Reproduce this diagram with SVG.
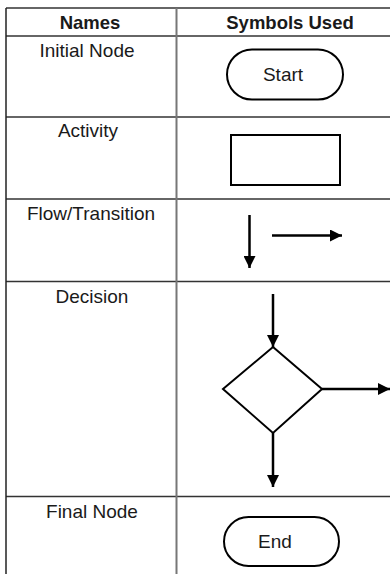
<svg xmlns="http://www.w3.org/2000/svg" width="390" height="574" viewBox="0 0 390 574">
<defs>
<style>
.t{font-family:"Liberation Sans",Arial,sans-serif;font-size:19px;fill:#1a1a1a;text-anchor:middle}
.b{font-weight:bold;font-size:18.5px}
.h{stroke:#333;stroke-width:1.5;fill:none}
.v{stroke:#777;stroke-width:2;fill:none}
.s{stroke:#000;stroke-width:2;fill:#fff}
.a{stroke:#000;stroke-width:2.5;fill:none}
</style>
<marker id="ah" viewBox="0 0 10 10" refX="10" refY="5" markerWidth="4.8" markerHeight="4.8" markerUnits="strokeWidth" orient="auto">
<path d="M0,0 L10,5 L0,10 Z" fill="#000"/>
</marker>
</defs>
<rect width="390" height="574" fill="#fff"/>
<g id="table">
<line class="h" x1="6" y1="8" x2="390" y2="8"/>
<line class="h" x1="6" y1="36" x2="390" y2="36"/>
<line class="h" x1="6" y1="117" x2="390" y2="117"/>
<line class="h" x1="6" y1="199" x2="390" y2="199"/>
<line class="h" x1="6" y1="281.5" x2="390" y2="281.5"/>
<line class="h" x1="6" y1="496.5" x2="390" y2="496.5"/>
<line x1="6" y1="8" x2="6" y2="574" stroke="#222" stroke-width="1.5"/>
<line class="v" x1="176.5" y1="8" x2="176.5" y2="574"/>
</g>
<g id="labels">
<text class="t b" x="90" y="29">Names</text>
<text class="t b" x="290" y="29">Symbols Used</text>
<text class="t" x="87" y="57">Initial Node</text>
<text class="t" x="88" y="137">Activity</text>
<text class="t" x="91" y="220">Flow/Transition</text>
<text class="t" x="92" y="303">Decision</text>
<text class="t" x="92" y="518">Final Node</text>
</g>
<g id="start">
<rect class="s" x="227" y="49.5" width="116" height="50" rx="25"/>
<text class="t" x="283" y="81">Start</text>
</g>
<g id="activity">
<rect class="s" x="231" y="135" width="109" height="50"/>
</g>
<g id="decision">
<polygon class="s" points="273,347 322,389 273,433 223,389"/>
</g>
<g id="end">
<rect class="s" x="224" y="517" width="115" height="49" rx="24.5"/>
<text class="t" x="275" y="548">End</text>
</g>
<g id="connectors">
<line class="a" x1="249.5" y1="215" x2="249.5" y2="268" marker-end="url(#ah)"/>
<line class="a" x1="272" y1="235.5" x2="342" y2="235.5" marker-end="url(#ah)"/>
<line class="a" x1="273" y1="294" x2="273" y2="347" marker-end="url(#ah)"/>
<line class="a" x1="322" y1="389" x2="390" y2="389" marker-end="url(#ah)"/>
<line class="a" x1="273" y1="433" x2="273" y2="487" marker-end="url(#ah)"/>
</g>
</svg>
